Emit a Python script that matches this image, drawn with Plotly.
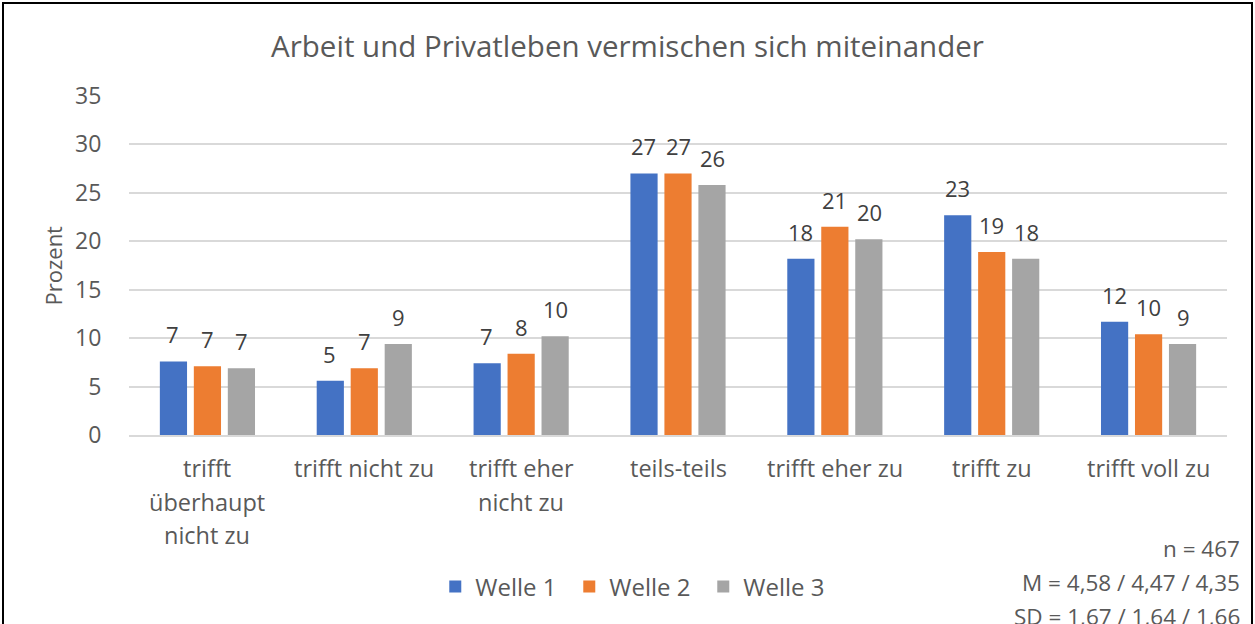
import plotly.graph_objects as go

categories = ["trifft überhaupt nicht zu", "trifft nicht zu", "trifft eher nicht zu",
              "teils-teils", "trifft eher zu", "trifft zu", "trifft voll zu"]
category_lines = [["trifft", "überhaupt", "nicht zu"], ["trifft nicht zu"], ["trifft eher", "nicht zu"],
                  ["teils-teils"], ["trifft eher zu"], ["trifft zu"], ["trifft voll zu"]]
series_names = ["Welle 1", "Welle 2", "Welle 3"]
welle1 = [7.6, 5.6, 7.4, 27.0, 18.2, 22.7, 11.7]
welle2 = [7.1, 6.9, 8.4, 27.0, 21.5, 18.9, 10.4]
welle3 = [6.9, 9.4, 10.2, 25.8, 20.2, 18.2, 9.4]
labels1 = [7, 5, 7, 27, 18, 23, 12]
labels2 = [7, 7, 8, 27, 21, 19, 10]
labels3 = [7, 9, 10, 26, 20, 18, 9]
y_ticks = [0, 5, 10, 15, 20, 25, 30, 35]
stats_lines = ["n = 467", "M = 4,58 / 4,47 / 4,35", "SD = 1,67 / 1,64 / 1,66"]

colors = ["#4472C4", "#ED7D31", "#A5A5A5"]
FONT = "Open Sans, Liberation Sans, sans-serif"
TXT = "#595959"

fig = go.Figure()
for name, vals, col in zip(series_names, [welle1, welle2, welle3], colors):
    fig.add_trace(go.Bar(x=categories, y=vals, name=name, marker_color=col,
                         marker_line_width=0, hoverinfo="x+y"))

ann = []
for k, (vals, labs) in enumerate(zip([welle1, welle2, welle3], [labels1, labels2, labels3])):
    for c, v, l in zip(categories, vals, labs):
        ann.append(dict(x=c, y=v, xref="x", yref="y", text=str(l), showarrow=False,
                        xshift=(k - 1) * 34.5, yshift=27, yanchor="middle",
                        font=dict(family=FONT, size=22, color="#404040")))

for c, lines in zip(categories, category_lines):
    for i, line in enumerate(lines):
        ann.append(dict(x=c, y=0, xref="x", yref="paper", text=line, showarrow=False,
                        yshift=-33 - 33.5 * i, yanchor="middle",
                        font=dict(family=FONT, size=23.5, color=TXT)))

for i, line in enumerate(stats_lines):
    ann.append(dict(x=1, y=0, xref="paper", yref="paper", text=line, showarrow=False,
                    xanchor="right", yanchor="middle", xshift=15, yshift=-113 - 34 * i,
                    font=dict(family=FONT, size=22.5, color=TXT)))

ann.append(dict(x=0, y=0.5, xref="paper", yref="paper", text="Prozent", showarrow=False,
                textangle=-90, xshift=-77, xanchor="center", yanchor="middle",
                font=dict(family=FONT, size=22, color=TXT)))

fig.update_layout(
    width=1255, height=624,
    margin=dict(l=129, r=28, t=96, b=189),
    paper_bgcolor="white", plot_bgcolor="white",
    barmode="group", bargap=0.35, bargroupgap=0.2,
    title=dict(text="Arbeit und Privatleben vermischen sich miteinander",
               x=0.5, xanchor="center", y=1 - 47 / 624, yanchor="middle",
               font=dict(family=FONT, size=29.5, color=TXT)),
    showlegend=True,
    legend=dict(orientation="h", x=0.462, xanchor="center", y=-0.448, yanchor="middle",
                font=dict(family=FONT, size=24, color=TXT), itemsizing="constant",
                entrywidth=89, entrywidthmode="pixels",
                traceorder="normal", bgcolor="rgba(0,0,0,0)"),
    annotations=ann,
    shapes=[dict(type="rect", xref="paper", yref="paper",
                 x0=(3 - 129) / 1098, x1=(1252 - 129) / 1098,
                 y0=(435 - 660) / 339, y1=(435 - 3) / 339,
                 line=dict(color="#000000", width=2), fillcolor="rgba(0,0,0,0)", layer="above")],
)
fig.update_xaxes(showticklabels=False, showgrid=False, showline=True, linecolor="#d9d9d9",
                 linewidth=1.5, ticks="")
fig.update_yaxes(range=[0, 35], tickvals=y_ticks, showgrid=True, gridcolor="#d9d9d9",
                 gridwidth=1.5, zeroline=False, showline=False, ticks="outside", ticklen=22,
                 tickcolor="rgba(0,0,0,0)",
                 tickfont=dict(family=FONT, size=23, color=TXT))

fig.write_html("out.html", config={"displayModeBar": False},
               post_script="document.body.style.margin='0';document.body.style.overflow='hidden';")
